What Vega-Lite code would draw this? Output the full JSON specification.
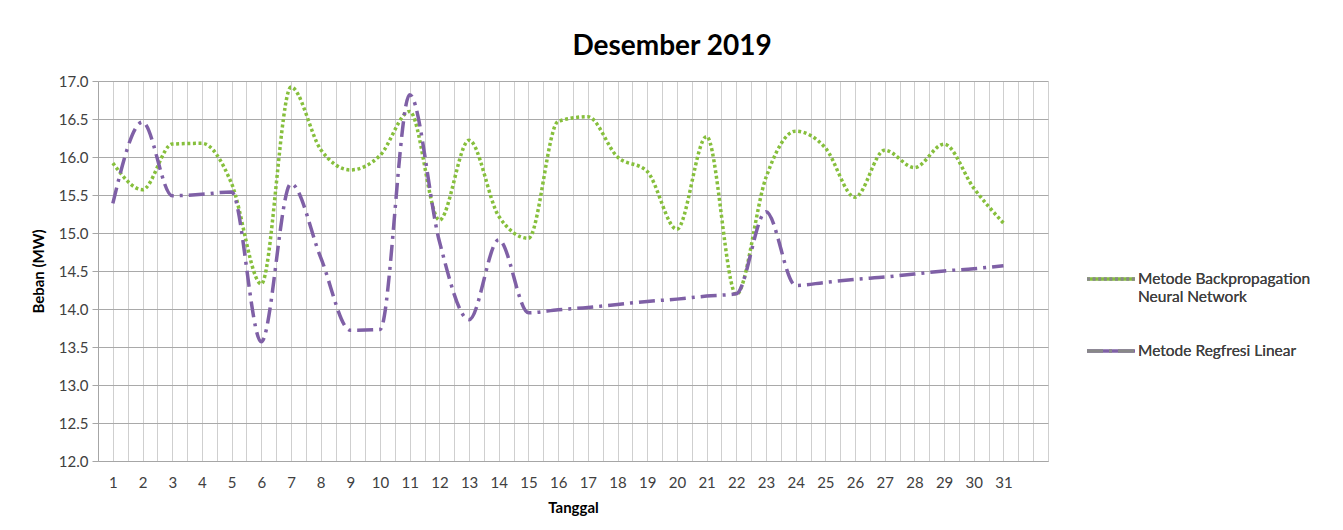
{
  "$schema": "https://vega.github.io/schema/vega-lite/v6.json",
  "autosize": {"type": "none"},
  "width": 950,
  "height": 380,
  "padding": {"left": 98, "top": 81, "right": 295, "bottom": 69},
  "background": "white",
  "title": {
    "text": "Desember 2019",
    "font": "Lato",
    "fontSize": 28,
    "fontWeight": "bold",
    "color": "#000000",
    "anchor": "middle",
    "frame": "group",
    "dx": 99,
    "baseline": "alphabetic",
    "offset": -9
  },
  "config": {
    "view": {"stroke": null},
    "font": "Lato",
    "axis": {
      "labelFont": "Lato",
      "labelFontSize": 15,
      "labelColor": "#404040",
      "titleFont": "Lato",
      "titleFontSize": 15,
      "titleFontWeight": "bold",
      "titleColor": "#000000"
    },
    "legend": {
      "labelFont": "Lato",
      "labelFontSize": 15.5,
      "labelColor": "#404040",
      "labelLimit": 400,
      "orient": "none",
      "legendX": 987,
      "legendY": 172,
      "symbolType": "stroke",
      "symbolSize": 2300,
      "symbolStrokeWidth": 3.5,
      "rowPadding": 20,
      "labelOffset": 1
    }
  },
  "data": {
    "values": [
      {"day": 1, "series": "Metode Backpropagation Neural Network", "beban": 15.92},
      {"day": 2, "series": "Metode Backpropagation Neural Network", "beban": 15.57},
      {"day": 3, "series": "Metode Backpropagation Neural Network", "beban": 16.17},
      {"day": 4, "series": "Metode Backpropagation Neural Network", "beban": 16.18},
      {"day": 5, "series": "Metode Backpropagation Neural Network", "beban": 15.65},
      {"day": 6, "series": "Metode Backpropagation Neural Network", "beban": 14.33},
      {"day": 7, "series": "Metode Backpropagation Neural Network", "beban": 16.92},
      {"day": 8, "series": "Metode Backpropagation Neural Network", "beban": 16.1},
      {"day": 9, "series": "Metode Backpropagation Neural Network", "beban": 15.83},
      {"day": 10, "series": "Metode Backpropagation Neural Network", "beban": 16.02},
      {"day": 11, "series": "Metode Backpropagation Neural Network", "beban": 16.6},
      {"day": 12, "series": "Metode Backpropagation Neural Network", "beban": 15.17},
      {"day": 13, "series": "Metode Backpropagation Neural Network", "beban": 16.22},
      {"day": 14, "series": "Metode Backpropagation Neural Network", "beban": 15.22},
      {"day": 15, "series": "Metode Backpropagation Neural Network", "beban": 14.93},
      {"day": 16, "series": "Metode Backpropagation Neural Network", "beban": 16.47},
      {"day": 17, "series": "Metode Backpropagation Neural Network", "beban": 16.53},
      {"day": 18, "series": "Metode Backpropagation Neural Network", "beban": 16.0},
      {"day": 19, "series": "Metode Backpropagation Neural Network", "beban": 15.81},
      {"day": 20, "series": "Metode Backpropagation Neural Network", "beban": 15.05},
      {"day": 21, "series": "Metode Backpropagation Neural Network", "beban": 16.27},
      {"day": 22, "series": "Metode Backpropagation Neural Network", "beban": 14.19},
      {"day": 23, "series": "Metode Backpropagation Neural Network", "beban": 15.73},
      {"day": 24, "series": "Metode Backpropagation Neural Network", "beban": 16.34},
      {"day": 25, "series": "Metode Backpropagation Neural Network", "beban": 16.12},
      {"day": 26, "series": "Metode Backpropagation Neural Network", "beban": 15.47},
      {"day": 27, "series": "Metode Backpropagation Neural Network", "beban": 16.09},
      {"day": 28, "series": "Metode Backpropagation Neural Network", "beban": 15.86},
      {"day": 29, "series": "Metode Backpropagation Neural Network", "beban": 16.17},
      {"day": 30, "series": "Metode Backpropagation Neural Network", "beban": 15.59},
      {"day": 31, "series": "Metode Backpropagation Neural Network", "beban": 15.13},
      {"day": 1, "series": "Metode Regfresi Linear", "beban": 15.39},
      {"day": 2, "series": "Metode Regfresi Linear", "beban": 16.46},
      {"day": 3, "series": "Metode Regfresi Linear", "beban": 15.49},
      {"day": 4, "series": "Metode Regfresi Linear", "beban": 15.51},
      {"day": 5, "series": "Metode Regfresi Linear", "beban": 15.54},
      {"day": 6, "series": "Metode Regfresi Linear", "beban": 13.57},
      {"day": 7, "series": "Metode Regfresi Linear", "beban": 15.65},
      {"day": 8, "series": "Metode Regfresi Linear", "beban": 14.68},
      {"day": 9, "series": "Metode Regfresi Linear", "beban": 13.72},
      {"day": 10, "series": "Metode Regfresi Linear", "beban": 13.73},
      {"day": 11, "series": "Metode Regfresi Linear", "beban": 16.82},
      {"day": 12, "series": "Metode Regfresi Linear", "beban": 14.89},
      {"day": 13, "series": "Metode Regfresi Linear", "beban": 13.86},
      {"day": 14, "series": "Metode Regfresi Linear", "beban": 14.91},
      {"day": 15, "series": "Metode Regfresi Linear", "beban": 13.95},
      {"day": 16, "series": "Metode Regfresi Linear", "beban": 13.99},
      {"day": 17, "series": "Metode Regfresi Linear", "beban": 14.02},
      {"day": 18, "series": "Metode Regfresi Linear", "beban": 14.06},
      {"day": 19, "series": "Metode Regfresi Linear", "beban": 14.1},
      {"day": 20, "series": "Metode Regfresi Linear", "beban": 14.13},
      {"day": 21, "series": "Metode Regfresi Linear", "beban": 14.17},
      {"day": 22, "series": "Metode Regfresi Linear", "beban": 14.2},
      {"day": 23, "series": "Metode Regfresi Linear", "beban": 15.28},
      {"day": 24, "series": "Metode Regfresi Linear", "beban": 14.31},
      {"day": 25, "series": "Metode Regfresi Linear", "beban": 14.35},
      {"day": 26, "series": "Metode Regfresi Linear", "beban": 14.39},
      {"day": 27, "series": "Metode Regfresi Linear", "beban": 14.42},
      {"day": 28, "series": "Metode Regfresi Linear", "beban": 14.46},
      {"day": 29, "series": "Metode Regfresi Linear", "beban": 14.5},
      {"day": 30, "series": "Metode Regfresi Linear", "beban": 14.53},
      {"day": 31, "series": "Metode Regfresi Linear", "beban": 14.57}
    ]
  },
  "mark": {"type": "line", "interpolate": "monotone", "strokeWidth": 3.5, "strokeCap": "butt"},
  "encoding": {
    "x": {
      "field": "day",
      "type": "quantitative",
      "title": "Tanggal",
      "scale": {"domain": [0.5, 32.5], "nice": false, "zero": false},
      "axis": {
        "values": [0.5,1,1.5,2,2.5,3,3.5,4,4.5,5,5.5,6,6.5,7,7.5,8,8.5,9,9.5,10,10.5,11,11.5,12,12.5,13,13.5,14,14.5,15,15.5,16,16.5,17,17.5,18,18.5,19,19.5,20,20.5,21,21.5,22,22.5,23,23.5,24,24.5,25,25.5,26,26.5,27,27.5,28,28.5,29,29.5,30,30.5,31,31.5,32,32.5],
        "labelExpr": "(datum.value % 1 === 0 && datum.value <= 31) ? ('' + datum.value) : ''",
        "labelOverlap": false,
        "labelFlush": false,
        "labelBound": false,
        "ticks": false,
        "labelPadding": 14,
        "titlePadding": 10,
        "grid": true,
        "gridColor": "#cfcfcf",
        "gridWidth": 1,
        "domainColor": "#a6a6a6"
      }
    },
    "y": {
      "field": "beban",
      "type": "quantitative",
      "title": "Beban (MW)",
      "scale": {"domain": [12, 17], "nice": false, "zero": false},
      "axis": {
        "values": [12,12.5,13,13.5,14,14.5,15,15.5,16,16.5,17],
        "format": ".1f",
        "grid": true,
        "gridColor": "#a9a9a9",
        "gridWidth": 1,
        "ticks": true,
        "tickSize": 6,
        "tickColor": "#a6a6a6",
        "domainColor": "#a6a6a6",
        "labelPadding": 4,
        "titlePadding": 12
      }
    },
    "color": {
      "field": "series",
      "type": "nominal",
      "sort": ["Metode Backpropagation Neural Network", "Metode Regfresi Linear"],
      "scale": {"range": ["#86bf3c", "#7f60a6"]},
      "legend": {
        "title": null,
        "labelExpr": "datum.label == 'Metode Backpropagation Neural Network' ? ['Metode Backpropagation', 'Neural Network'] : datum.label"
      }
    },
    "strokeDash": {
      "field": "series",
      "type": "nominal",
      "sort": ["Metode Backpropagation Neural Network", "Metode Regfresi Linear"],
      "scale": {"range": [[3, 2.6], [16, 6, 3, 6]]},
      "legend": {
        "title": null,
        "labelExpr": "datum.label == 'Metode Backpropagation Neural Network' ? ['Metode Backpropagation', 'Neural Network'] : datum.label"
      }
    }
  }
}
